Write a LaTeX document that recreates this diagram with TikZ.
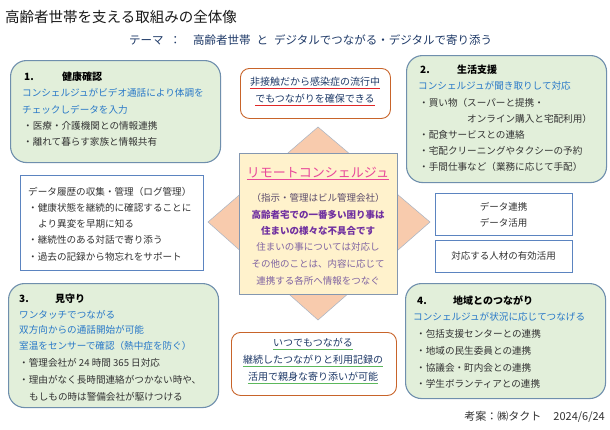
\documentclass[tikz,border=0pt]{standalone}
\usepackage{fontspec}
\setmainfont{Noto Sans CJK JP}
\newcommand\fs[1]{\fontsize{#1}{#1}\selectfont}
\definecolor{gfill}{HTML}{E2EFDA}
\definecolor{gborder}{HTML}{6F8FAD}
\definecolor{oborder}{HTML}{C8642A}
\definecolor{bborder}{HTML}{5B84C0}
\definecolor{btext}{HTML}{2878C8}
\definecolor{dtext}{HTML}{333333}
\definecolor{navy}{HTML}{1F3A68}
\definecolor{ured}{HTML}{E02828}
\definecolor{ugreen}{HTML}{5CB85C}
\definecolor{dfill}{HTML}{F8CBAD}
\definecolor{dborder}{HTML}{A8B4C4}
\definecolor{sqfill}{HTML}{FFF2CC}
\definecolor{sqborder}{HTML}{8497B0}
\definecolor{cpink}{HTML}{E8489A}
\definecolor{cgray}{HTML}{5B4B6B}
\definecolor{cpurple}{HTML}{7030A0}
\definecolor{clight}{HTML}{8064A2}
\begin{document}
\begin{tikzpicture}[x=1pt,y=-1pt,
  gbox/.style={draw=gborder, line width=1.1pt, fill=gfill, rounded corners=16pt, anchor=north west, inner sep=0pt},
  obox/.style={draw=oborder, line width=0.9pt, fill=white, rounded corners=9pt, anchor=north west, inner sep=0pt},
  bbox/.style={draw=bborder, line width=0.8pt, fill=white, anchor=north west, inner sep=0pt},
  ln/.style={anchor=west, inner sep=0pt, font=\fs{9.6}, text=dtext},
  bl/.style={ln, text=btext},
  hd/.style={anchor=west, inner sep=0pt, font=\fs{10}\bfseries, text=black},
  cl/.style={anchor=center, inner sep=0pt, font=\fs{9.5}},
  nv/.style={cl, font=\fs{10}, text=navy},
]
\fill[white] (0,0) rectangle (610,429);
\useasboundingbox (0,0) rectangle (610,429);

% title and theme
\node[anchor=west, inner sep=0pt, font=\fs{14.5}, text=black!90] (title) at (5,17) {高齢者世帯を支える取組みの全体像};
\node[anchor=west, inner sep=0pt, font=\fs{11.5}, text=navy] (theme) at (129,40) {テーマ\hspace{6pt}：\hspace{12pt}高齢者世帯\hspace{6pt}と\hspace{6pt}デジタルでつながる・デジタルで寄り添う};

% green boxes
\node[gbox, minimum width=210pt, minimum height=102pt] (box1) at (10,60) {};
\node[gbox, minimum width=200pt, minimum height=127pt] (box2) at (406,55) {};
\node[gbox, minimum width=210pt, minimum height=124pt] (box3) at (8,283) {};
\node[gbox, minimum width=200pt, minimum height=115pt] (box4) at (405,283) {};

% box 1
\node[hd] (h1n) at (24,77) {1.};
\node[hd] (h1t) at (62,77) {健康確認};
\node[bl] (b1a) at (22,93) {コンシェルジュがビデオ通話により体調を};
\node[bl] (b1b) at (22,110) {チェックしデータを入力};
\node[ln] (b1c) at (23,126) {・医療・介護機関との情報連携};
\node[ln] (b1d) at (23,142) {・離れて暮らす家族と情報共有};

% box 2
\node[hd] (h2n) at (420,70) {2.};
\node[hd] (h2t) at (457,70) {生活支援};
\node[bl] (b2a) at (418,86) {コンシェルジュが聞き取りして対応};
\node[ln] (b2b) at (419,103) {・買い物（スーパーと提携・};
\node[ln] (b2c) at (467,119) {オンライン購入と宅配利用）};
\node[ln] (b2d) at (419,135) {・配食サービスとの連絡};
\node[ln] (b2e) at (419,151) {・宅配クリーニングやタクシーの予約};
\node[ln] (b2f) at (419,167) {・手間仕事など（業務に応じて手配）};

% box 3
\node[hd] (h3n) at (19,299) {3.};
\node[hd] (h3t) at (55,299) {見守り};
\node[bl] (b3a) at (19,315) {ワンタッチでつながる};
\node[bl] (b3b) at (19,330) {双方向からの通話開始が可能};
\node[bl] (b3c) at (19,346) {室温をセンサーで確認（熱中症を防ぐ）};
\node[ln] (b3d) at (19,363) {・管理会社が 24 時間 365 日対応};
\node[ln] (b3e) at (19,380) {・理由がなく長時間連絡がつかない時や、};
\node[ln] (b3f) at (29,397) {もしもの時は警備会社が駆けつける};

% box 4
\node[hd] (h4n) at (417,301) {4.};
\node[hd] (h4t) at (453,301) {地域とのつながり};
\node[bl] (b4a) at (413,317) {コンシェルジュが状況に応じてつなげる};
\node[ln] (b4b) at (416,334) {・包括支援センターとの連携};
\node[ln] (b4c) at (416,351) {・地域の民生委員との連携};
\node[ln] (b4d) at (416,368) {・協議会・町内会との連携};
\node[ln] (b4e) at (416,384) {・学生ボランティアとの連携};

% left data box
\node[bbox, minimum width=183pt, minimum height=95pt] (lbox) at (20,175) {};
\node[ln] (l1) at (28,192) {データ履歴の収集・管理（ログ管理）};
\node[ln] (l2) at (28,208) {・健康状態を継続的に確認することに};
\node[ln] (l3) at (38,224) {より異変を早期に知る};
\node[ln] (l4) at (28,240) {・継続性のある対話で寄り添う};
\node[ln] (l5) at (28,257) {・過去の記録から物忘れをサポート};

% right boxes
\node[bbox, minimum width=137pt, minimum height=42pt] (rbox1) at (435,193) {};
\node[cl, text=dtext] (r1) at (503.5,207) {データ連携};
\node[cl, text=dtext] (r2) at (503.5,223) {データ活用};
\node[bbox, minimum width=137pt, minimum height=32pt] (rbox2) at (435,240) {};
\node[cl, text=dtext] (r3) at (503.5,256) {対応する人材の有効活用};

% center diamond and square
\fill[dfill, draw=dborder, line width=0.5pt] (318,127) -- (430,222) -- (318,320) -- (208,222) -- cycle;
\node[draw=sqborder, line width=1.3pt, fill=sqfill, anchor=north west, inner sep=0pt, minimum width=158pt, minimum height=141pt] (sq) at (239,153) {};
\node[cl, font=\fs{13}, text=cpink] (c0) at (318,173) {リモートコンシェルジュ};
\draw[cpink, line width=0.8pt] ([yshift=-1pt]c0.south west) -- ([yshift=-1pt]c0.south east);
\node[cl, text=cgray] (c1) at (318,198) {（指示・管理はビル管理会社）};
\node[cl, text=cpurple, font=\fs{9.5}\bfseries] (c2) at (318,215) {高齢者宅での一番多い困り事は};
\node[cl, text=cpurple, font=\fs{9.5}\bfseries] (c3) at (318,231) {住まいの様々な不具合です};
\node[cl, text=clight] (c4) at (318,247) {住まいの事については対応し};
\node[cl, text=clight] (c5) at (318,264) {その他のことは、内容に応じて};
\node[cl, text=clight] (c6) at (318,281) {連携する各所へ情報をつなぐ};

% top center box
\node[obox, minimum width=150pt, minimum height=50pt] (tbox) at (240,68) {};
\node[nv] (t1) at (315,82) {非接触だから感染症の流行中};
\node[nv] (t2) at (315,99) {でもつながりを確保できる};
\draw[ured, line width=0.8pt] ([yshift=-1.5pt]t1.south west) -- ([yshift=-1.5pt]t1.south east);
\draw[ured, line width=0.8pt] ([yshift=-1.5pt]t2.south west) -- ([yshift=-1.5pt]t2.south east);

% bottom center box
\node[obox, minimum width=165pt, minimum height=63pt] (ubox) at (231,332) {};
\node[nv] (u1) at (313,343) {いつでもつながる};
\node[nv] (u2) at (313,360) {継続したつながりと利用記録の};
\node[nv] (u3) at (313,377) {活用で親身な寄り添いが可能};
\draw[ugreen, line width=0.8pt] ([yshift=-1.5pt]u1.south west) -- ([yshift=-1.5pt]u1.south east);
\draw[ugreen, line width=0.8pt] ([yshift=-1.5pt]u2.south west) -- ([yshift=-1.5pt]u2.south east);
\draw[ugreen, line width=0.8pt] ([yshift=-1.5pt]u3.south west) -- ([yshift=-1.5pt]u3.south east);

% credit
\node[anchor=east, inner sep=0pt, font=\fs{11}, text=dtext] (credit) at (605,417) {考案：㈱タクト\hspace{12pt}2024/6/24};
\end{tikzpicture}
\end{document}
